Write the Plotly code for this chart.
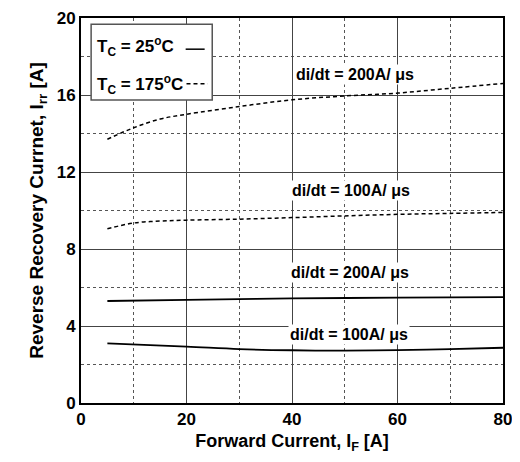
import plotly.graph_objects as go

# Data
x_hot_200 = [5, 10, 15, 20, 30, 40, 50, 60, 70, 80]
y_hot_200 = [13.7, 14.3, 14.75, 15.0, 15.4, 15.75, 15.95, 16.1, 16.35, 16.6]
x_hot_100 = [5, 10, 15, 20, 30, 40, 50, 60, 70, 80]
y_hot_100 = [9.05, 9.35, 9.45, 9.5, 9.55, 9.63, 9.72, 9.8, 9.85, 9.9]
x_cold_200 = [5, 20, 40, 60, 80]
y_cold_200 = [5.3, 5.36, 5.43, 5.47, 5.5]
x_cold_100 = [5, 20, 30, 40, 50, 60, 70, 80]
y_cold_100 = [3.1, 2.93, 2.8, 2.74, 2.72, 2.75, 2.8, 2.87]

labels = ["di/dt = 200A/ μs", "di/dt = 100A/ μs", "di/dt = 200A/ μs", "di/dt = 100A/ μs"]
label_x = [51.9, 51.2, 50.9, 50.8]
label_y = [17.05, 11.05, 6.8, 3.58]

x_ticks = [0, 20, 40, 60, 80]
y_ticks = [0, 4, 8, 12, 16, 20]

FONT = "Liberation Sans, Arial, Helvetica, sans-serif"

fig = go.Figure()
for xs, ys, dash in [(x_hot_200, y_hot_200, "4px,3px"), (x_hot_100, y_hot_100, "4px,3px"),
                     (x_cold_200, y_cold_200, "solid"), (x_cold_100, y_cold_100, "solid")]:
    fig.add_trace(go.Scatter(x=xs, y=ys, mode="lines",
                             line=dict(color="black", width=1.8 if dash == "solid" else 1.5, dash=dash, shape="spline"),
                             showlegend=False, hoverinfo="skip"))

for t, lx, ly in zip(labels, label_x, label_y):
    fig.add_annotation(x=lx, y=ly, text="<b>" + t + "</b>", showarrow=False, bgcolor="white",
                       font=dict(family=FONT, size=16, color="black"), borderpad=1)

# legend box
fig.add_shape(type="rect", xref="paper", yref="paper", x0=0.024, x1=0.311, y0=0.787, y1=0.984,
              line=dict(color="#555", width=1.5), fillcolor="white", layer="above")
fig.add_annotation(xref="paper", yref="paper", x=0.034, y=0.925, xanchor="left", yanchor="middle",
                   text="<b>T<sub>C</sub> = 25<sup>o</sup>C</b>", showarrow=False,
                   font=dict(family=FONT, size=17, color="black"))
fig.add_annotation(xref="paper", yref="paper", x=0.034, y=0.826, xanchor="left", yanchor="middle",
                   text="<b>T<sub>C</sub> = 175<sup>o</sup>C</b>", showarrow=False,
                   font=dict(family=FONT, size=17, color="black"))
fig.add_shape(type="line", xref="paper", yref="paper", x0=0.248, x1=0.293, y0=0.919, y1=0.919,
              line=dict(color="black", width=1.5), layer="above")
fig.add_shape(type="line", xref="paper", yref="paper", x0=0.25, x1=0.3, y0=0.829, y1=0.829,
              line=dict(color="black", width=1.5, dash="4px,3px"), layer="above")

axis_common = dict(showline=True, linecolor="black", linewidth=2, mirror=True,
                   showgrid=True, gridcolor="#444", gridwidth=1, zeroline=False, automargin=False,
                   ticks="", tickfont=dict(family=FONT, size=17, color="black"))
fig.update_xaxes(range=[0, 80], tickvals=x_ticks, ticktext=["<b>%d</b>" % v for v in x_ticks],
                 minor=dict(dtick=10, showgrid=True, gridcolor="#555", griddash="dot", gridwidth=1),
                 title=dict(text="<b>Forward Current, I<sub>F</sub> [A]</b>", font=dict(family=FONT, size=18, color="black"), standoff=6),
                 **axis_common)
fig.update_yaxes(range=[0, 20], tickvals=y_ticks, ticktext=["<b>%d</b>" % v for v in y_ticks],
                 minor=dict(dtick=2, showgrid=True, gridcolor="#555", griddash="dot", gridwidth=1),
                 title=dict(text="<b>Reverse Recovery Currnet, I<sub>rr</sub> [A]</b>", font=dict(family=FONT, size=19, color="black"), standoff=8),
                 **axis_common)
# page body adds an 8px margin, so the figure is sized/offset to compensate
fig.update_layout(width=512, height=454, margin=dict(l=73, r=17, t=10, b=59),
                  paper_bgcolor="white", plot_bgcolor="white", showlegend=False)
fig.write_html("out.html")
